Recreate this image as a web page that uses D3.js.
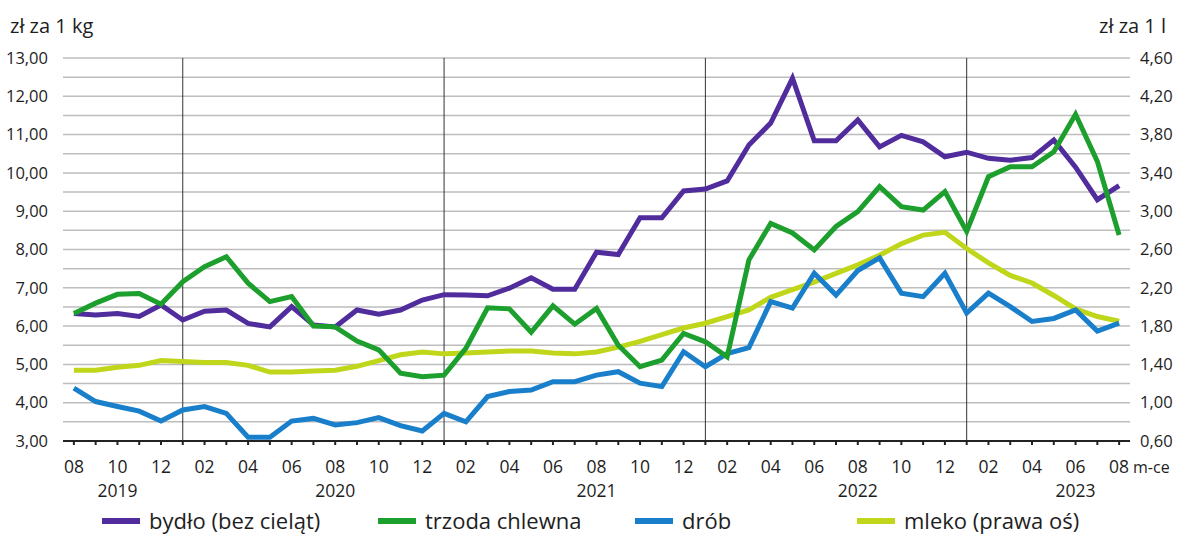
<!DOCTYPE html>
<html>
<head>
<meta charset="utf-8">
<script src="https://cdn.jsdelivr.net/npm/d3@7"></script>
<style>
  html, body { margin: 0; padding: 0; background: #fff; }
  svg { display: block; font-family: "Open Sans", "Noto Sans", sans-serif; }
</style>
</head>
<body>
<svg id="chart" width="1178" height="536"></svg>
<script>
// ---- data (months 08/2019 .. 08/2023) ----
const months = ["08","09","10","11","12","01","02","03","04","05","06","07","08","09","10","11","12",
  "01","02","03","04","05","06","07","08","09","10","11","12",
  "01","02","03","04","05","06","07","08","09","10","11","12",
  "01","02","03","04","05","06","07","08"];
const years = [
  {label: "2019", at: 2},
  {label: "2020", at: 12},
  {label: "2021", at: 24},
  {label: "2022", at: 36},
  {label: "2023", at: 46}
];
const yearStarts = [5, 17, 29, 41];

const bydlo = [6.33,6.29,6.33,6.25,6.55,6.16,6.39,6.42,6.07,5.98,6.51,6.03,5.98,6.42,6.31,6.42,6.68,
  6.82,6.81,6.79,6.99,7.26,6.96,6.96,7.93,7.87,8.83,8.83,9.53,
  9.58,9.79,10.73,11.30,12.47,10.84,10.84,11.38,10.68,10.98,10.81,10.42,
  10.54,10.38,10.33,10.40,10.86,10.15,9.30,9.67];
const trzoda = [6.33,6.60,6.83,6.85,6.57,7.16,7.55,7.81,7.12,6.64,6.77,6.00,5.98,5.61,5.38,4.77,4.68,
  4.72,5.42,6.48,6.45,5.84,6.53,6.05,6.46,5.50,4.94,5.11,5.81,
  5.59,5.20,7.73,8.68,8.43,7.99,8.60,8.99,9.64,9.12,9.03,9.51,
  8.47,9.90,10.16,10.16,10.55,11.53,10.30,8.38];
const drob = [4.38,4.03,3.90,3.78,3.52,3.81,3.90,3.72,3.10,3.10,3.52,3.59,3.42,3.48,3.61,3.40,3.26,
  3.72,3.50,4.16,4.29,4.33,4.55,4.55,4.72,4.81,4.51,4.42,5.33,
  4.94,5.28,5.44,6.64,6.47,7.38,6.81,7.45,7.78,6.86,6.77,7.38,
  6.34,6.86,6.51,6.12,6.20,6.42,5.87,6.08];
const mleko = [1.34,1.34,1.37,1.39,1.44,1.43,1.42,1.42,1.39,1.32,1.32,1.33,1.34,1.38,1.44,1.50,1.53,
  1.51,1.52,1.53,1.54,1.54,1.52,1.51,1.53,1.58,1.64,1.71,1.78,
  1.83,1.90,1.97,2.10,2.18,2.26,2.35,2.44,2.54,2.66,2.75,2.78,
  2.61,2.46,2.33,2.25,2.12,1.98,1.90,1.85];

const leftTicks = [3,4,5,6,7,8,9,10,11,12,13];
const rightTicks = [0.6,1.0,1.4,1.8,2.2,2.6,3.0,3.4,3.8,4.2,4.6];

const seriesNames = ["bydło (bez cieląt)", "trzoda chlewna", "drób", "mleko (prawa oś)"];
const colors = ["#502c9c", "#1c9f2d", "#1a7fcb", "#bfd61a"];

// ---- layout ----
const svg = d3.select("#chart");
const L = 63, R = 1130, T = 58, B = 441;
const TXT = "#1e1e1e";
const fmt = v => d3.format(".2f")(v).replace(".", ",");

const x = d3.scaleLinear().domain([-0.5, months.length - 0.5]).range([L, R]);
const yL = d3.scaleLinear().domain([3, 13]).range([B, T]);
const yR = d3.scaleLinear().domain([0.6, 4.6]).range([B, T]);

// gridlines every 0.5
const grid = d3.range(3.5, 13.01, 0.5);
svg.append("g").selectAll("line").data(grid).join("line")
  .attr("x1", L).attr("x2", R)
  .attr("y1", d => yL(d)).attr("y2", d => yL(d))
  .attr("stroke", "#bdbdbd").attr("stroke-width", 1.5);

// year separators
svg.append("g").selectAll("line").data(yearStarts).join("line")
  .attr("x1", d => x(d)).attr("x2", d => x(d))
  .attr("y1", T).attr("y2", B)
  .attr("stroke", "#333").attr("stroke-width", 1);

// left axis labels
svg.append("g").selectAll("text").data(leftTicks).join("text")
  .attr("x", 48).attr("y", d => yL(d)).attr("dy", "0.35em")
  .attr("text-anchor", "end").attr("font-size", 16.5).attr("fill", TXT)
  .text(fmt);

// right axis labels
svg.append("g").selectAll("text").data(rightTicks).join("text")
  .attr("x", 1140).attr("y", d => yR(d)).attr("dy", "0.35em")
  .attr("text-anchor", "start").attr("font-size", 16.5).attr("fill", TXT)
  .text(fmt);

// axis titles
svg.append("text").attr("x", 10).attr("y", 33).attr("font-size", 20).attr("fill", TXT).text("zł za 1 kg");
svg.append("text").attr("x", 1166).attr("y", 33).attr("font-size", 20).attr("fill", TXT)
  .attr("text-anchor", "end").text("zł za 1 l");

// lines
const line = (ys) => d3.line().x((d, i) => x(i)).y(d => ys(d));
const order = [
  {data: mleko, scale: yR, color: colors[3]},
  {data: drob, scale: yL, color: colors[2]},
  {data: bydlo, scale: yL, color: colors[0]},
  {data: trzoda, scale: yL, color: colors[1]}
];
svg.append("g").selectAll("path").data(order).join("path")
  .attr("d", s => line(s.scale)(s.data))
  .attr("fill", "none").attr("stroke", s => s.color)
  .attr("stroke-width", 5).attr("stroke-linejoin", "miter").attr("stroke-miterlimit", 3);

// x axis line
svg.append("line").attr("x1", L).attr("x2", R).attr("y1", B).attr("y2", B)
  .attr("stroke", "#222").attr("stroke-width", 2);
svg.append("g").selectAll("line").data(months.map((m, i) => i)).join("line")
  .attr("x1", d => x(d)).attr("x2", d => x(d)).attr("y1", B).attr("y2", B + 4)
  .attr("stroke", "#222").attr("stroke-width", 2);

// month labels (every second)
svg.append("g").selectAll("text").data(months.map((m, i) => ({m, i})).filter(d => d.i % 2 === 0)).join("text")
  .attr("x", d => x(d.i)).attr("y", 467).attr("dy", "0.35em")
  .attr("text-anchor", "middle").attr("font-size", 17.5).attr("fill", TXT)
  .text(d => d.m);
svg.append("text").attr("x", 1133).attr("y", 467).attr("dy", "0.35em")
  .attr("font-size", 16).attr("fill", TXT).text("m-ce");

// year labels
svg.append("g").selectAll("text").data(years).join("text")
  .attr("x", d => x(d.at)).attr("y", 491).attr("dy", "0.35em")
  .attr("text-anchor", "middle").attr("font-size", 17.5).attr("fill", TXT)
  .text(d => d.label);

// legend
const legendX = [102, 378, 635, 857];
const lg = svg.append("g").selectAll("g").data(seriesNames).join("g")
  .attr("transform", (d, i) => `translate(${legendX[i]},521)`);
lg.append("line").attr("x1", 0).attr("x2", 38).attr("y1", 0).attr("y2", 0)
  .attr("stroke", (d, i) => colors[i]).attr("stroke-width", 6);
lg.append("text").attr("x", 47).attr("y", 0).attr("dy", "0.35em")
  .attr("font-size", 22).attr("fill", TXT).text(d => d);
</script>
</body>
</html>
